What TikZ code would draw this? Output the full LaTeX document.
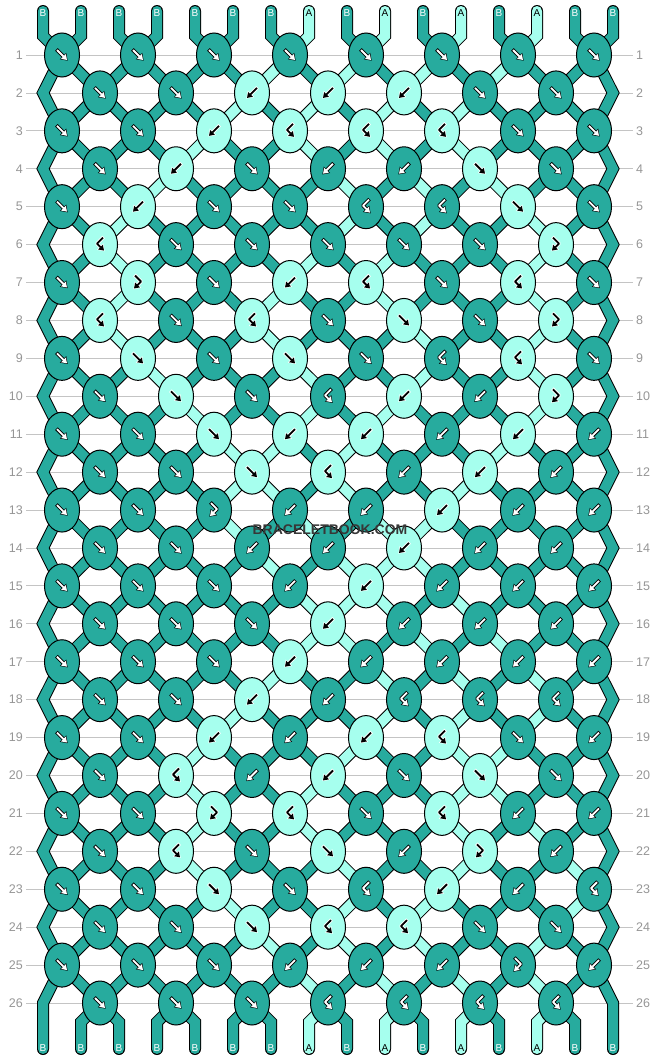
\documentclass[tikz,border=0pt]{standalone}
\usepackage{fontspec}
\setmainfont{Liberation Sans}
\usetikzlibrary{arrows.meta,shapes.geometric}

\definecolor{strB}{RGB}{39,171,158}
\definecolor{strA}{RGB}{166,255,238}
\definecolor{rowgray}{RGB}{196,196,196}
\definecolor{numgray}{RGB}{150,150,150}
\definecolor{markgray}{RGB}{55,55,55}
\colorlet{labB}{white}
\colorlet{labA}{black}
\colorlet{frontB}{white}
\colorlet{backB}{black}
\colorlet{frontA}{black}
\colorlet{backA}{white}

\pgfdeclarelayer{grid}
\pgfdeclarelayer{strands}
\pgfsetlayers{grid,strands,main}

\tikzset{
  knot/.style={
    ellipse,
    draw=black,
    line width=1pt,
    minimum width=35pt,
    minimum height=44pt,
    inner sep=0pt
  },
  strand/.style={
    draw=black,
    line width=1pt,
    double distance=10pt,
    line cap=round
  },
  rowline/.style={draw=rowgray, line width=0.8pt, shorten <=3pt, shorten >=3pt},
  rownum/.style={text=numgray, font=\fontsize{12.5}{12.5}\selectfont, inner sep=0pt},
  endlabel/.style={font=\fontsize{10}{10}\selectfont, inner sep=0pt},
  glyph back/.style={
    line width=3.6pt,
    line join=round,
    shorten <=-0.8pt,
    shorten >=-1pt,
    -{Triangle[length=6.6pt,width=8.6pt]}
  },
  glyph front/.style={
    line width=1.8pt,
    line join=round,
    -{Triangle[length=5pt,width=6.4pt]}
  },
  watermark/.style={text=markgray, font=\fontsize{14}{14}\selectfont\bfseries, inner sep=0pt}
}

% knot types: F forward, B backward, FB forward-backward, BF backward-forward
\def\doF{\edef\kcol{\sa}\def\kswap{1}}
\def\doB{\edef\kcol{\sb}\def\kswap{1}}
\def\doFB{\edef\kcol{\sa}\def\kswap{0}}
\def\doBF{\edef\kcol{\sb}\def\kswap{0}}

% arrow glyphs inside a knot
\def\gF{(-5,-5) -- (5,5)}
\def\gB{(5,-5) -- (-5,5)}
\def\gFB{(-3,-7) -- (3,-1) -- (-4,6)}
\def\gBF{(3,-7) -- (-3,-1) -- (4,6)}

\begin{document}
\begin{tikzpicture}[x=1pt, y=-1pt]
\useasboundingbox (0,0) rectangle (658,1060);

% Row lines and numbers
\begin{pgfonlayer}{grid}
\fill[white] (0,0) rectangle (658,1060);
\foreach \rw in {1,...,26}{
  \pgfmathsetmacro\y{55+37.92*(\rw-1)}
  \node[rownum, anchor=east] (nl-\rw) at (23,\y) {\rw};
  \node[rownum, anchor=west] (nr-\rw) at (636,\y) {\rw};
  \draw[rowline] (nl-\rw.east) -- (nr-\rw.west);
}
\end{pgfonlayer}

% Strings at the top
\foreach \col [count=\sn] in {B,B,B,B,B,B,B,A,B,A,B,A,B,A,B,B}{
  \pgfmathsetmacro\x{43+38*(\sn-1)}
  \expandafter\xdef\csname s\sn\endcsname{\col}
  \coordinate (t-\sn) at (\x,11);
  \coordinate (u-\sn) at (\x,36);
  \coordinate (v-\sn) at (\x,1022);
  \coordinate (w-\sn) at (\x,1049);
  \expandafter\xdef\csname p\sn\endcsname{(t-\sn) -- (u-\sn)}
  \node[endlabel, text=lab\col] (top-\sn) at (\x,13.5) {\col};
}

% Knots, row by row
\foreach \row [count=\rw] in {
  {F,F,F,F,F,F,F,F},
  {F,F,B,B,B,F,F},
  {F,F,B,BF,BF,BF,F,F},
  {F,B,F,B,B,F,F},
  {F,B,F,F,BF,BF,F,F},
  {BF,F,F,F,F,F,FB},
  {F,FB,F,B,BF,F,BF,F},
  {BF,F,BF,F,F,F,FB},
  {F,F,F,F,F,BF,BF,F},
  {F,F,F,BF,B,B,FB},
  {F,F,F,B,B,B,B,B},
  {F,F,F,BF,B,B,B},
  {F,F,FB,B,B,B,B,B},
  {F,F,B,B,B,B,B},
  {F,F,F,B,B,B,B,B},
  {F,F,F,B,B,B,B},
  {F,F,F,B,B,B,B,B},
  {F,F,B,B,BF,BF,BF},
  {F,F,B,B,B,BF,F,B},
  {F,BF,B,B,F,F,F},
  {F,F,FB,BF,F,BF,B,B},
  {F,BF,F,F,B,FB,B},
  {F,F,F,F,BF,B,B,BF},
  {F,F,F,BF,BF,F,F},
  {F,F,F,B,B,B,FB,B},
  {F,F,F,BF,BF,BF,BF}}{
  \pgfmathsetmacro\y{55+37.92*(\rw-1)}
  \ifodd\rw\relax
    \def\xo{62}\def\jo{0}
  \else
    \def\xo{100}\def\jo{1}
    \coordinate (e-\rw-l) at (43,\y);
    \coordinate (e-\rw-r) at (613,\y);
    \expandafter\xdef\csname p1\endcsname{\csname p1\endcsname\space -- (e-\rw-l)}
    \expandafter\xdef\csname p16\endcsname{\csname p16\endcsname\space -- (e-\rw-r)}
  \fi
  \foreach \kt [count=\kn] in \row {
    \pgfmathtruncatemacro\ja{2*\kn-1+\jo}
    \pgfmathtruncatemacro\jb{\ja+1}
    \pgfmathsetmacro\x{\xo+76*(\kn-1)}
    \edef\sa{\csname s\ja\endcsname}
    \edef\sb{\csname s\jb\endcsname}
    \csname do\kt\endcsname
    \node[knot, fill=str\kcol] (k-\rw-\kn) at (\x,\y) {};
    \edef\knotglyph{%
      \noexpand\draw[glyph back, draw=back\kcol] \csname g\kt\endcsname;%
      \noexpand\draw[glyph front, draw=front\kcol] \csname g\kt\endcsname;}
    \begin{scope}[shift={(\x,\y)}]\knotglyph\end{scope}
    \edef\segs{%
      \noexpand\draw[strand, double=str\sa] \csname p\ja\endcsname\space -- (k-\rw-\kn.center);%
      \noexpand\draw[strand, double=str\sb] \csname p\jb\endcsname\space -- (k-\rw-\kn.center);}
    \begin{pgfonlayer}{strands}\segs\end{pgfonlayer}
    \expandafter\xdef\csname p\ja\endcsname{(k-\rw-\kn.center)}
    \expandafter\xdef\csname p\jb\endcsname{(k-\rw-\kn.center)}
    \ifnum\kswap=1
      \expandafter\xdef\csname s\ja\endcsname{\sb}
      \expandafter\xdef\csname s\jb\endcsname{\sa}
    \fi
  }
}

% Strings at the bottom
\foreach \sn in {1,...,16}{
  \edef\col{\csname s\sn\endcsname}
  \edef\segs{\noexpand\draw[strand, double=str\col] \csname p\sn\endcsname\space -- (v-\sn) -- (w-\sn);}
  \begin{pgfonlayer}{strands}\segs\end{pgfonlayer}
  \node[endlabel, text=lab\col] (bot-\sn) at ([yshift=1pt]w-\sn) {\col};
}

% Watermark
\node[watermark] (wm) at (330,530) {BRACELETBOOK.COM};

\end{tikzpicture}
\end{document}
